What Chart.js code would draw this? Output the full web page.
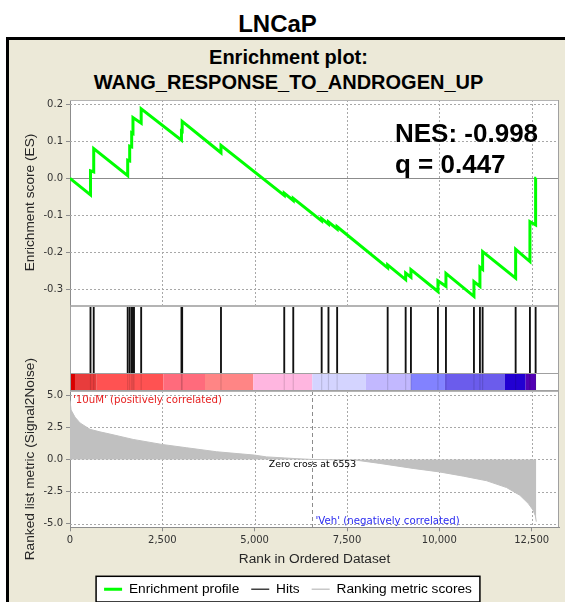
<!DOCTYPE html>
<html>
<head>
<meta charset="utf-8">
<title>LNCaP enrichment plot</title>
<script src="https://cdn.jsdelivr.net/npm/chart.js@4.4.1/dist/chart.umd.min.js"></script>
<style>
  html, body { margin: 0; padding: 0; background: #fff; }
  body { position: relative; width: 565px; height: 602px; overflow: hidden; font-family: "Liberation Sans", Arial, sans-serif; color: #000; }
  #cellLine { position: absolute; left: 0; top: 10px; width: 555px; text-align: center; font-size: 24px; font-weight: bold; line-height: 28px; }
  #frame { position: absolute; left: 6px; top: 37px; width: 600px; height: 600px; background: #ece9d8; border-left: 3px solid #000; border-top: 3px solid #000; }
  .plotTitle { position: absolute; left: 0; width: 577px; text-align: center; font-size: 20px; font-weight: bold; line-height: 24px; }
  canvas { position: absolute; left: 0; }
</style>
</head>
<body>
<div id="cellLine">LNCaP</div>
<div id="frame"></div>
<div class="plotTitle" style="top:45px">Enrichment plot:</div>
<div class="plotTitle" style="top:70px">WANG_RESPONSE_TO_ANDROGEN_UP</div>
<canvas id="esChart" width="565" height="210" style="top:95px"></canvas>
<canvas id="hitChart" width="565" height="86" style="top:305px"></canvas>
<canvas id="metricChart" width="565" height="306" style="top:300px"></canvas>
<script>
// rank axis (12,625 genes in the ordered list)
const rankMax = 13240;
const rankTicks = [0, 2500, 5000, 7500, 10000, 12500];

// running enrichment score, before and after every step
const esRank = [0, 555, 555, 642, 642, 1562, 1562, 1616, 1616, 1670, 1670, 1705, 1705,
  1927, 1927, 3018, 3018, 3037, 3037, 4088, 4088, 5801, 5801, 6045, 6045, 6814, 6814,
  6998, 6998, 7233, 7233, 8601, 8601, 9088, 9088, 9231, 9231, 9962, 9962, 10179, 10179,
  10937, 10937, 11099, 11099, 11172, 11172, 12066, 12066, 12453, 12453, 12607, 12607, 12625];
const esScore = [0, -0.045, 0.020, 0.017, 0.080, 0.007, 0.049, 0.047, 0.087, 0.085, 0.123, 0.121, 0.164,
  0.149, 0.188, 0.103, 0.128, 0.127, 0.154, 0.069, 0.089, -0.046, -0.040, -0.060, -0.054, -0.115, -0.109,
  -0.124, -0.118, -0.137, -0.131, -0.242, -0.234, -0.274, -0.256, -0.267, -0.247, -0.306, -0.277, -0.292, -0.257,
  -0.319, -0.279, -0.292, -0.240, -0.246, -0.198, -0.270, -0.192, -0.225, -0.117, -0.126, 0.000, 0.000];
const esTicks = [-0.3, -0.2, -0.1, 0, 0.1, 0.2];

// where the gene set members sit in the ranked list
const hitRanks = [555, 642, 1562, 1616, 1670, 1705, 1733, 1927, 3018, 3037, 4088, 5801, 6045,
  6814, 6998, 7233, 8601, 9088, 9231, 9962, 10179, 10937, 11099, 11172, 12066, 12453, 12607];

// signal-to-noise ranking metric
const metricRank = [0, 30, 135, 270, 540, 810, 1080, 1710, 2490, 3160, 3970, 4990, 5320, 5800, 6200,
  6553, 7000, 7760, 8390, 9290, 10000, 10650, 11280, 11820, 12180, 12410, 12540, 12600, 12625];
const metricValue = [4.6, 3.85, 3.3, 2.85, 2.35, 2.15, 1.98, 1.56, 1.17, 0.91, 0.6, 0.34, 0.2, 0.12, 0.05,
  0.0, -0.02, -0.06, -0.31, -0.7, -0.97, -1.3, -1.66, -2.19, -2.79, -3.44, -3.96, -4.4, -4.85];
const metricTicks = [-5, -2.5, 0, 2.5, 5];
const zeroCross = 6553;

// red-to-blue strip under the hits
const stripEdges = [0, 135, 723, 2526, 3655, 4962, 6560, 8013, 9231, 10152, 11776, 12337, 12616];
const stripColors = ['#d90000', '#e83c3c', '#ff5252', '#ff6b7c', '#ff8585', '#ffb6e0',
  '#d4d4ff', '#c2b8ff', '#8282ff', '#6b5cec', '#2200d2', '#5200b4'];

const nesText = 'NES: -0.998';
const qText = 'q = 0.447';
const posLabel = "'10uM' (positively correlated)";
const negLabel = "'Veh' (negatively correlated)";
const legendLabels = ['Enrichment profile', 'Hits', 'Ranking metric scores'];

const tickFont = { family: 'DejaVu Sans', size: 10 };
const titleFont = { family: 'Liberation Sans', size: 13.7 };
const gridGrey = '#a8a8a8';
const axisGrey = '#8c8c8c';
const gridDash = [2, 2];
const legendColors = ['#00ff00', '#404040', '#c8c8c8'];
const legendWidths = [3, 1.5, 1.5];

const setTicks = values => axis => { axis.ticks = values.map(v => ({ value: v })); };
const fixWidth = w => s => { s.width = w; s.paddingTop = 0; s.paddingBottom = 0; };

// white plot panel with a thin grey top / right edge
const whitePanel = {
  id: 'whitePanel',
  beforeDraw(chart) {
    const { ctx, chartArea: a } = chart;
    ctx.save();
    ctx.fillStyle = '#fff';
    ctx.fillRect(a.left, a.top, a.right - a.left, a.bottom - a.top);
    ctx.restore();
  },
  afterDraw(chart, args, opts) {
    const { ctx, chartArea: a } = chart;
    const tw = opts.topWidth || 1;
    ctx.save();
    ctx.strokeStyle = '#b4b4b4';
    ctx.lineWidth = tw;
    ctx.beginPath();
    ctx.moveTo(a.left, a.top + tw / 2);
    ctx.lineTo(a.right, a.top + tw / 2);
    ctx.stroke();
    ctx.lineWidth = 1;
    ctx.strokeStyle = '#a0a0a0';
    ctx.beginPath();
    ctx.moveTo(a.right - 0.5, a.top);
    ctx.lineTo(a.right - 0.5, a.bottom);
    if (opts.leftEdge) {
      ctx.moveTo(a.left + 0.5, a.top);
      ctx.lineTo(a.left + 0.5, a.bottom);
    }
    ctx.stroke();
    ctx.restore();
  }
};

// dashed grid at the tick values, solid zero line on the score panel
const dashGrid = {
  id: 'dashGrid',
  beforeDatasetsDraw(chart, args, opts) {
    const { ctx, chartArea: a, scales: { x, y } } = chart;
    const yTicks = opts.es ? esTicks : metricTicks;
    ctx.save();
    ctx.lineWidth = 1;
    ctx.strokeStyle = gridGrey;
    ctx.setLineDash(gridDash);
    ctx.beginPath();
    rankTicks.filter(v => v > 0).forEach(v => {
      const px = Math.round(x.getPixelForValue(v)) + 0.5;
      ctx.moveTo(px, a.top);
      ctx.lineTo(px, a.bottom);
    });
    yTicks.filter(v => !(opts.es && v === 0)).forEach(v => {
      const py = Math.round(y.getPixelForValue(v)) + 0.5;
      ctx.moveTo(a.left, py);
      ctx.lineTo(a.right, py);
    });
    ctx.stroke();
    if (opts.es) {
      const py = Math.round(y.getPixelForValue(0)) + 0.5;
      ctx.setLineDash([]);
      ctx.strokeStyle = axisGrey;
      ctx.beginPath();
      ctx.moveTo(a.left, py);
      ctx.lineTo(a.right, py);
      ctx.stroke();
    }
    ctx.restore();
  }
};

const nesLabel = {
  id: 'nesLabel',
  afterDatasetsDraw(chart) {
    const { ctx, chartArea: a } = chart;
    ctx.save();
    ctx.font = 'bold 26px "Liberation Sans", Arial, sans-serif';
    ctx.fillStyle = '#000';
    ctx.fillText(nesText, a.left + 325, a.top + 42);
    ctx.fillText(qText, a.left + 325, a.top + 73);
    ctx.restore();
  }
};

const heatStrip = {
  id: 'heatStrip',
  afterDraw(chart, args, opts) {
    const { ctx, chartArea: a, scales: { x } } = chart;
    const top = a.bottom, h = opts.height;
    ctx.save();
    ctx.fillStyle = '#fff';
    ctx.fillRect(a.left, top, a.right - a.left, h);
    stripColors.forEach((c, i) => {
      const x0 = x.getPixelForValue(stripEdges[i]);
      const x1 = x.getPixelForValue(stripEdges[i + 1]);
      ctx.fillStyle = c;
      ctx.fillRect(x0, top, x1 - x0, h);
    });
    // hits show faintly through the strip
    ctx.strokeStyle = 'rgba(0,0,0,0.13)';
    ctx.lineWidth = 1.2;
    hitRanks.forEach(r => {
      const px = x.getPixelForValue(r);
      ctx.beginPath();
      ctx.moveTo(px, top);
      ctx.lineTo(px, top + h);
      ctx.stroke();
    });
    ctx.strokeStyle = '#a0a0a0';
    ctx.lineWidth = 1;
    ctx.beginPath();
    ctx.moveTo(a.left, top + 0.5);
    ctx.lineTo(a.right, top + 0.5);
    ctx.moveTo(a.left, top + h - 0.5);
    ctx.lineTo(a.right, top + h - 0.5);
    ctx.moveTo(a.right - 0.5, top);
    ctx.lineTo(a.right - 0.5, top + h);
    ctx.moveTo(a.left + 0.5, top);
    ctx.lineTo(a.left + 0.5, top + h);
    ctx.stroke();
    ctx.restore();
  }
};

const metricNotes = {
  id: 'metricNotes',
  afterDatasetsDraw(chart) {
    const { ctx, chartArea: a, scales: { x, y } } = chart;
    const zx = Math.round(x.getPixelForValue(zeroCross)) + 0.5;
    ctx.save();
    ctx.strokeStyle = axisGrey;
    ctx.lineWidth = 1;
    ctx.setLineDash([4, 3]);
    ctx.beginPath();
    ctx.moveTo(zx, a.top);
    ctx.lineTo(zx, a.bottom);
    ctx.stroke();
    ctx.setLineDash([]);
    ctx.font = '9.3px "DejaVu Sans", sans-serif';
    ctx.fillStyle = '#000';
    ctx.textAlign = 'center';
    ctx.fillText('Zero cross at ' + zeroCross, zx, y.getPixelForValue(0) + 5);
    ctx.font = '10.2px "DejaVu Sans", sans-serif';
    ctx.textAlign = 'left';
    ctx.fillStyle = '#e62020';
    ctx.fillText(posLabel, a.left + 3, a.top + 9);
    ctx.fillStyle = '#2b2bf0';
    ctx.fillText(negLabel, zx + 3, a.bottom - 6);
    ctx.restore();
  }
};

// box around the legend row
function legendRect(chart) {
  const boxes = chart.legend && chart.legend.legendHitBoxes;
  if (!boxes || !boxes.length) return null;
  const left = Math.min(...boxes.map(b => b.left)) - 8;
  const right = Math.max(...boxes.map(b => b.left + b.width)) + 8;
  const top = boxes[0].top - 6;
  const bottom = boxes[0].top + boxes[0].height + 6;
  return { left, top, width: right - left, height: bottom - top };
}
const legendFrame = {
  id: 'legendFrame',
  beforeDraw(chart) {
    const r = legendRect(chart);
    if (!r) return;
    chart.ctx.save();
    chart.ctx.fillStyle = '#fff';
    chart.ctx.fillRect(r.left, r.top, r.width, r.height);
    chart.ctx.restore();
  },
  afterDraw(chart) {
    const r = legendRect(chart);
    if (!r) return;
    chart.ctx.save();
    chart.ctx.strokeStyle = '#000';
    chart.ctx.lineWidth = 1.5;
    chart.ctx.strokeRect(r.left, r.top, r.width, r.height);
    chart.ctx.restore();
  }
};

// enrichment score panel
new Chart(document.getElementById('esChart'), {
  type: 'line',
  data: {
    datasets: [{
      label: 'Enrichment profile',
      data: esRank.map((r, i) => ({ x: r, y: esScore[i] })),
      borderColor: '#00ff00',
      borderWidth: 3,
      pointRadius: 0,
      tension: 0,
      fill: false
    }]
  },
  options: {
    responsive: false,
    animation: false,
    events: [],
    layout: { padding: { left: 17, right: 6, top: 5, bottom: 0 } },
    plugins: { legend: { display: false }, tooltip: { enabled: false }, dashGrid: { es: true } },
    scales: {
      x: {
        type: 'linear', min: 0, max: rankMax,
        afterBuildTicks: setTicks(rankTicks),
        afterFit: s => { s.height = 0; s.paddingLeft = 0; s.paddingRight = 0; },
        ticks: { display: false },
        grid: { display: false },
        border: { display: false }
      },
      y: {
        min: -0.3424, max: 0.2116,
        afterBuildTicks: setTicks(esTicks),
        afterFit: fixWidth(53),
        ticks: { font: tickFont, color: '#333', padding: 3, callback: v => v.toFixed(1) },
        grid: { drawOnChartArea: false, color: axisGrey, tickColor: axisGrey, tickLength: 4 },
        border: { color: axisGrey },
        title: { display: true, text: 'Enrichment score (ES)', font: titleFont, color: '#262626', padding: { top: 5, bottom: 0 } }
      }
    }
  },
  plugins: [whitePanel, dashGrid, nesLabel]
});

// hit marks with the ranked-list colour strip below
new Chart(document.getElementById('hitChart'), {
  type: 'bar',
  data: {
    datasets: [{
      label: 'Hits',
      data: hitRanks.map(r => ({ x: r, y: 1 })),
      backgroundColor: '#111',
      borderWidth: 0,
      barThickness: 1.2,
      grouped: false
    }]
  },
  options: {
    responsive: false,
    animation: false,
    events: [],
    layout: { padding: { left: 70, right: 6, top: 0, bottom: 18 } },
    plugins: {
      legend: { display: false },
      tooltip: { enabled: false },
      whitePanel: { topWidth: 2, leftEdge: true },
      heatStrip: { height: 18 }
    },
    scales: {
      x: { type: 'linear', min: 0, max: rankMax, offset: false, display: false },
      y: { min: 0, max: 1, display: false }
    }
  },
  plugins: [whitePanel, heatStrip]
});

// ranking metric panel, rank axis and legend
new Chart(document.getElementById('metricChart'), {
  type: 'line',
  data: {
    datasets: [{
      label: 'Ranking metric scores',
      data: metricRank.map((r, i) => ({ x: r, y: metricValue[i] })),
      borderColor: '#c0c0c0',
      backgroundColor: '#c0c0c0',
      borderWidth: 1,
      pointRadius: 0,
      tension: 0,
      fill: 'origin'
    }]
  },
  options: {
    responsive: false,
    animation: false,
    events: [],
    layout: { padding: { left: 17, right: 6, top: 91, bottom: 0 } },
    plugins: {
      tooltip: { enabled: false },
      dashGrid: { es: false },
      legend: {
        position: 'bottom',
        labels: {
          usePointStyle: true,
          pointStyleWidth: 18,
          padding: 12,
          color: '#000',
          font: titleFont,
          generateLabels: () => legendLabels.map((t, i) => ({
            text: t,
            strokeStyle: legendColors[i],
            fillStyle: legendColors[i],
            lineWidth: legendWidths[i],
            pointStyle: 'line',
            hidden: false,
            datasetIndex: 0
          }))
        }
      }
    },
    scales: {
      x: {
        type: 'linear', min: 0, max: rankMax,
        afterBuildTicks: setTicks(rankTicks),
        afterFit: s => { s.height = 43; s.paddingLeft = 0; s.paddingRight = 0; },
        ticks: { font: tickFont, color: '#333', padding: 3, maxRotation: 0, autoSkip: false, callback: v => v.toLocaleString('en-US') },
        grid: { drawOnChartArea: false, color: axisGrey, tickColor: axisGrey, tickLength: 4 },
        border: { color: axisGrey },
        title: { display: true, text: 'Rank in Ordered Dataset', font: titleFont, color: '#262626', padding: { top: 0, bottom: 3 } }
      },
      y: {
        min: -5.289, max: 5.336,
        afterBuildTicks: setTicks(metricTicks),
        afterFit: fixWidth(53),
        ticks: { font: tickFont, color: '#333', padding: 3, callback: v => v.toFixed(1) },
        grid: { drawOnChartArea: false, color: axisGrey, tickColor: axisGrey, tickLength: 4 },
        border: { color: axisGrey },
        title: { display: true, text: 'Ranked list metric (Signal2Noise)', font: titleFont, color: '#262626', padding: { top: 5, bottom: 0 } }
      }
    }
  },
  plugins: [whitePanel, dashGrid, metricNotes, legendFrame]
});
</script>
</body>
</html>
